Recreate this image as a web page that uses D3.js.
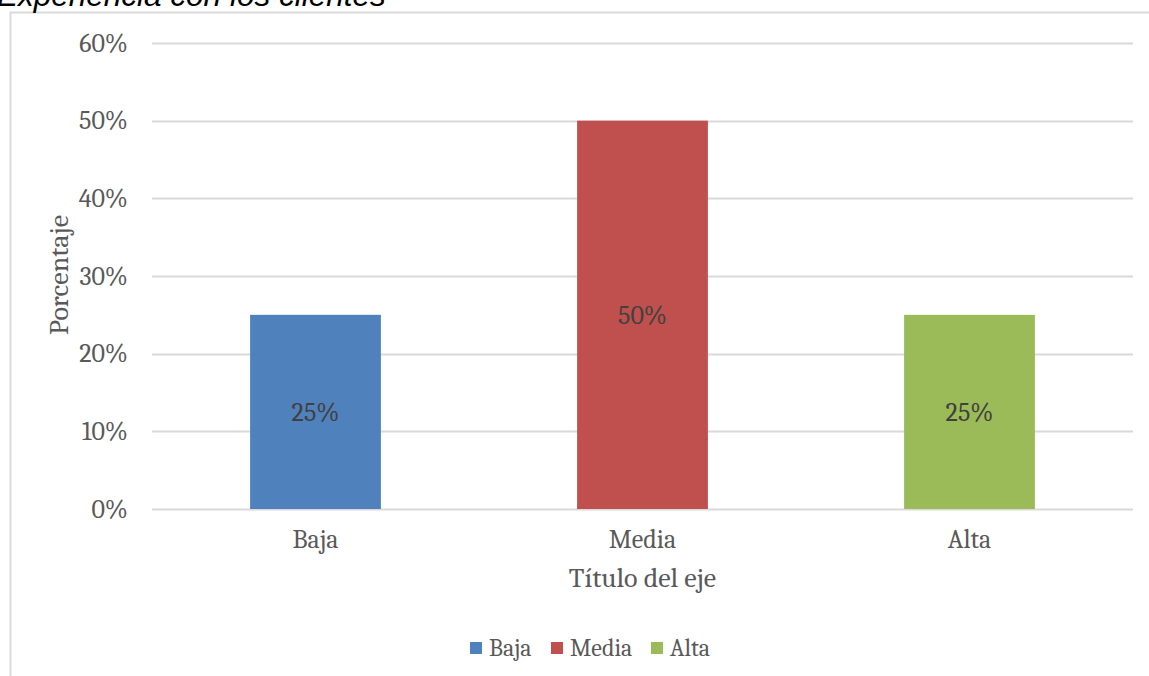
<!DOCTYPE html>
<html><head><meta charset="utf-8">
<script src="https://cdn.jsdelivr.net/npm/d3@7"></script>
<style>body{margin:0;background:#fff;} svg{display:block;}</style>
</head><body>
<svg id="c" width="1149" height="676"></svg>
<script>
const categories = ["Baja", "Media", "Alta"];
const values = [0.25, 0.50, 0.25];
const colors = ["#4F81BD", "#C0504D", "#9BBB59"];
const yTicks = [0, 0.1, 0.2, 0.3, 0.4, 0.5, 0.6];
const title = "Experiencia con los clientes";
const xTitle = "Título del eje";
const yTitle = "Porcentaje";

(function () {
const svg = d3.select("#c");
const serif = "Cambria, Caladea, 'DejaVu Serif', serif";
const fs = 26;

// border
svg.append("rect").attr("x", 10.5).attr("y", 12.5).attr("width", 1200).attr("height", 700)
  .attr("fill", "none").attr("stroke", "#d9d9d9").attr("stroke-width", 2);

// title (clipped at top, as in the reference)
svg.append("text").attr("x", -3).attr("y", 6)
  .attr("font-family", "Arial, 'Liberation Sans', sans-serif").attr("font-style", "italic")
  .attr("font-size", 31.5).attr("fill", "#000").text(title);

const pl = 152, pr = 1133, pt = 43, pb = 509;
const x = d3.scaleBand().domain(categories).range([pl, pr]).paddingInner(0.6).paddingOuter(0.3);
const y = d3.scaleLinear().domain([0, 0.6]).range([pb, pt]);

const g = svg.append("g");
g.selectAll("line.grid").data(yTicks).join("line")
  .attr("x1", pl).attr("x2", pr)
  .attr("y1", d => Math.round(y(d)) + 0.5).attr("y2", d => Math.round(y(d)) + 0.5)
  .attr("stroke", "#d9d9d9").attr("stroke-width", 2);

const yAxis = d3.axisLeft(y).tickValues(yTicks).tickFormat(d3.format(".0%")).tickSize(0).tickPadding(24);
const ya = svg.append("g").attr("transform", `translate(${pl},0)`).call(yAxis);
ya.select(".domain").remove();
ya.selectAll("text").attr("font-family", serif).attr("font-size", fs).attr("fill", "#595959");

g.selectAll("rect.bar").data(values).join("rect")
  .attr("x", (d, i) => x(categories[i])).attr("width", x.bandwidth())
  .attr("y", d => y(d)).attr("height", d => y(0) - y(d))
  .attr("fill", (d, i) => colors[i]);

g.selectAll("text.lbl").data(values).join("text")
  .attr("x", (d, i) => x(categories[i]) + x.bandwidth() / 2)
  .attr("y", d => (y(d) + y(0)) / 2).attr("dy", "0.35em")
  .attr("text-anchor", "middle").attr("font-family", serif).attr("font-size", fs)
  .attr("fill", "#404040").text(d => d3.format(".0%")(d));

const xAxis = d3.axisBottom(x).tickSize(0).tickPadding(0);
const xa = svg.append("g").attr("transform", `translate(0,${pb})`).call(xAxis);
xa.select(".domain").remove();
xa.selectAll("text").attr("y", 39).attr("dy", 0).attr("font-family", serif).attr("font-size", fs).attr("fill", "#595959");

svg.append("text").attr("x", (pl + pr) / 2).attr("y", 587).attr("text-anchor", "middle")
  .attr("font-family", serif).attr("font-size", 28).attr("fill", "#595959").text(xTitle);

svg.append("text").attr("transform", "translate(68,275) rotate(-90)").attr("text-anchor", "middle")
  .attr("font-family", serif).attr("font-size", 28).attr("fill", "#595959").text(yTitle);

// legend
const legX = [470, 551, 651];
const lg = svg.append("g");
categories.forEach((c, i) => {
  lg.append("rect").attr("x", legX[i]).attr("y", 642).attr("width", 12).attr("height", 12).attr("fill", colors[i]);
  lg.append("text").attr("x", legX[i] + 19).attr("y", 656).attr("font-family", serif).attr("font-size", 24)
    .attr("fill", "#595959").text(c);
});
})();
</script>
</body></html>
